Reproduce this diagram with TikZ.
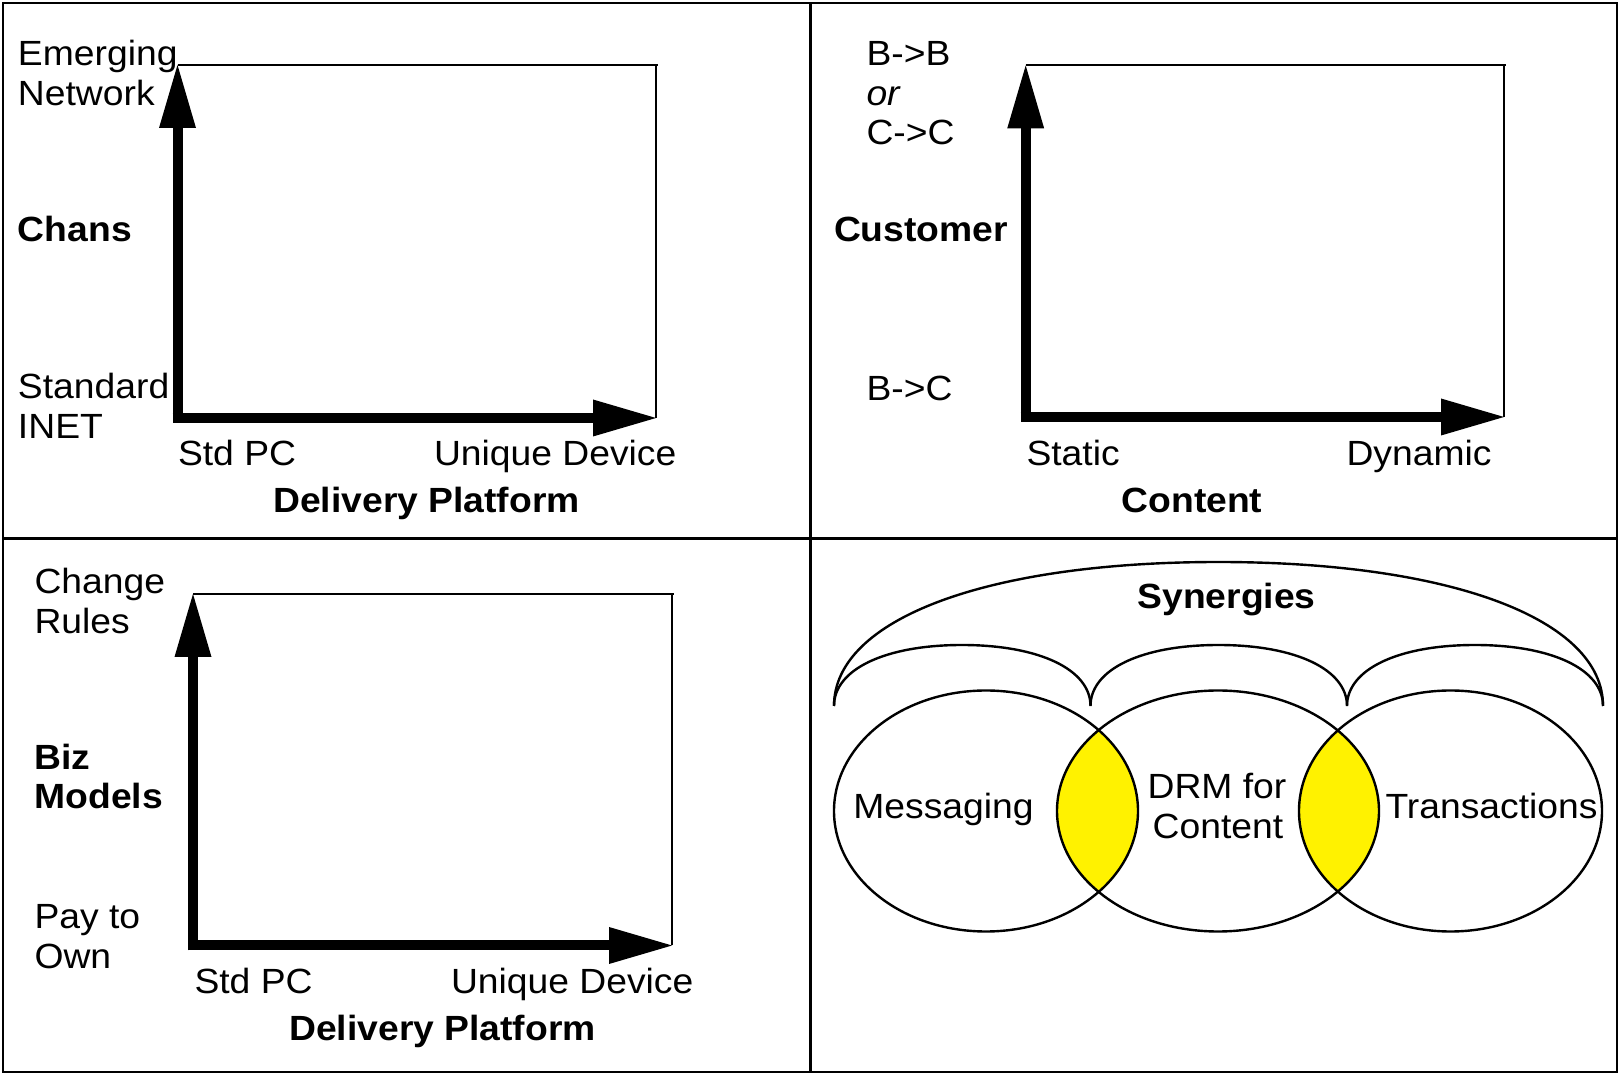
\documentclass[tikz,border=0pt]{standalone}
\usepackage{fontspec}
\setmainfont{Liberation Sans}[FakeStretch=1.065]
\usetikzlibrary{arrows.meta}
\begin{document}
\begin{tikzpicture}[x=0.5pt,y=-0.5pt,
  txt/.style={inner sep=0pt, outer sep=0pt, anchor=base west,
    font=\fontsize{17.5pt}{20pt}\selectfont},
  ctxt/.style={txt, anchor=base},
  btxt/.style={txt, font=\fontsize{17.5pt}{20pt}\selectfont\bfseries},
  bctxt/.style={btxt, anchor=base},
  itxt/.style={txt, font=\fontsize{17.5pt}{20pt}\selectfont\itshape},
  axisline/.style={line width=5pt,
    -{Triangle[length=31.5pt,width=18.5pt,line width=0pt]}},
  frameline/.style={line width=1pt},
  divider/.style={line width=1.4pt},
  venn/.style={line width=1.2pt},
  arch/.style={line width=1.2pt},
]
\useasboundingbox (0,0) rectangle (1619,1074);
\fill[white] (0,0) rectangle (1619,1074);

% outer frame and quadrant dividers
\draw[divider] (3,3) rectangle (1617,1072);
\draw[divider] (810.5,3) -- (810.5,1072);
\draw[divider] (3,538.7) -- (1617,538.7);

% ---------- top left: channels vs delivery platform ----------
\coordinate (tlO) at (177.5,418);
\coordinate (tlY) at (177.5,65);
\coordinate (tlX) at (656,418);
\coordinate (tlC) at (656,65);
\coordinate (tlOv) at (177.5,423);
\coordinate (tlOh) at (172.5,418);
\draw[frameline] (tlY) -- ([xshift=1pt]tlC) (tlC) -- (tlX);
\draw[axisline] (tlOv) -- (tlY);
\draw[axisline] (tlOh) -- (tlX);

\node[txt] (tlEm) at (18,66) {Emerging};
\node[txt] (tlNet) at (18,105.5) {Network};
\node[btxt] (tlCh) at (18,241.5) {Chans};
\node[txt] (tlStd) at (18,399) {Standard};
\node[txt] (tlIn) at (18,439) {INET};
\node[txt] (tlPC) at (178,466) {Std PC};
\node[txt] (tlUD) at (434,466) {Unique Device};
\node[bctxt] (tlDP) at (426.5,513) {Delivery Platform};

% ---------- top right: customer vs content ----------
\coordinate (trO) at (1025.7,417);
\coordinate (trY) at (1025.7,65.5);
\coordinate (trX) at (1504,417);
\coordinate (trC) at (1504,65.5);
\coordinate (trOv) at (1025.7,422);
\coordinate (trOh) at (1020.7,417);
\draw[frameline] (trY) -- ([xshift=1pt]trC) (trC) -- (trX);
\draw[axisline] (trOv) -- (trY);
\draw[axisline] (trOh) -- (trX);

\node[txt] (trBB) at (866.5,66) {B->B};
\node[itxt] (trOr) at (866.5,105.5) {or};
\node[txt] (trCC) at (866.5,145) {C->C};
\node[btxt] (trCu) at (834,241.5) {Customer};
\node[txt] (trBC) at (866.5,401) {B->C};
\node[txt] (trSt) at (1026.5,466) {Static};
\node[txt] (trDy) at (1346.5,466) {Dynamic};
\node[bctxt] (trCo) at (1192,513) {Content};

% ---------- bottom left: business models vs delivery platform ----------
\coordinate (blO) at (193,945.5);
\coordinate (blY) at (193,594);
\coordinate (blX) at (672,945.5);
\coordinate (blC) at (672,594);
\coordinate (blOv) at (193,950.5);
\coordinate (blOh) at (188,945.5);
\draw[frameline] (blY) -- ([xshift=1pt]blC) (blC) -- (blX);
\draw[axisline] (blOv) -- (blY);
\draw[axisline] (blOh) -- (blX);

\node[txt] (blCh) at (34.5,593.5) {Change};
\node[txt] (blRu) at (34.5,633.5) {Rules};
\node[btxt] (blBi) at (34.5,769.5) {Biz};
\node[btxt] (blMo) at (34.5,809) {Models};
\node[txt] (blPa) at (34.5,929) {Pay to};
\node[txt] (blOw) at (34.5,968.5) {Own};
\node[txt] (blPC) at (194.5,993.5) {Std PC};
\node[txt] (blUD) at (451,993.5) {Unique Device};
\node[bctxt] (blDP) at (442.5,1041) {Delivery Platform};

% ---------- bottom right: synergies ----------
\coordinate (vL) at (986,811);
\coordinate (vM) at (1218,811);
\coordinate (vR) at (1450.5,811);

\begin{scope}
  \clip (vL) ellipse [x radius=76pt, y radius=60.25pt];
  \fill[yellow] (vM) ellipse [x radius=80.5pt, y radius=60.25pt];
\end{scope}
\begin{scope}
  \clip (vR) ellipse [x radius=75.75pt, y radius=60.25pt];
  \fill[yellow] (vM) ellipse [x radius=80.5pt, y radius=60.25pt];
\end{scope}
\draw[venn] (vL) ellipse [x radius=76pt, y radius=60.25pt];
\draw[venn] (vM) ellipse [x radius=80.5pt, y radius=60.25pt];
\draw[venn] (vR) ellipse [x radius=75.75pt, y radius=60.25pt];

% brace arches above the circles
\coordinate (a0) at (834,706);
\coordinate (a1) at (1090.5,706);
\coordinate (a2) at (1347,706);
\coordinate (a3) at (1603,706);
\draw[arch] (a0) .. controls (834,669.4) and (885,645) .. (962,645)
                 .. controls (1039,645) and (1090.5,669.4) .. (a1);
\draw[arch] (a1) .. controls (1090.5,669.4) and (1141.5,645) .. (1218.5,645)
                 .. controls (1295.5,645) and (1347,669.4) .. (a2);
\draw[arch] (a2) .. controls (1347,669.4) and (1398,645) .. (1475,645)
                 .. controls (1552,645) and (1603,669.4) .. (a3);
\draw[arch] (a0) .. controls (834,619) and (987,562) .. (1218.5,562)
                 .. controls (1450,562) and (1603,619) .. (a3);

\node[bctxt] (brSy) at (1226.5,609) {Synergies};
\node[ctxt] (brMe) at (943.5,819) {Messaging};
\node[ctxt] (brDr) at (1217,799) {DRM for};
\node[ctxt] (brCo) at (1218,839) {Content};
\node[ctxt] (brTr) at (1491.5,819) {Transactions};
\end{tikzpicture}
\end{document}
